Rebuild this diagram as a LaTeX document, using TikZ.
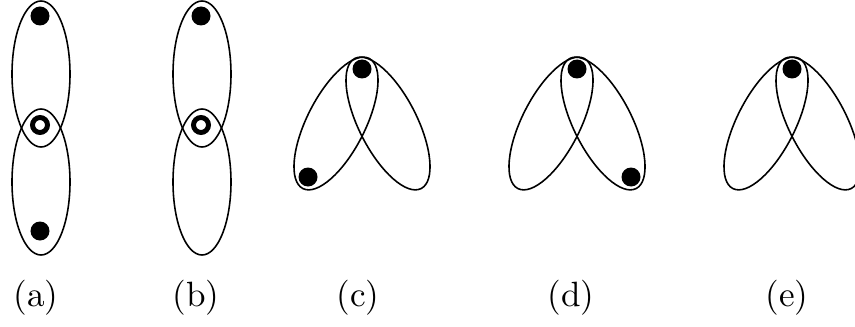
\documentclass[tikz,border=0pt]{standalone}
\usepackage{amsmath, amssymb}
\usetikzlibrary{positioning}

\begin{document}
\begin{tikzpicture}[
    loop/.style={draw, line width=0.45pt},
    full/.style={circle, fill=black, inner sep=0pt, minimum size=0.19cm},
    hole/.style={circle, draw, line width=1.4pt, inner sep=0pt, minimum size=0.15cm}
]
    \useasboundingbox (0,0) rectangle (8.55,3.26);

    % (a)
    \begin{scope}[shift={(0.40,0)}]
        \draw[loop] (0.01,2.52) ellipse [x radius=0.29, y radius=0.73];
        \draw[loop] (0.01,1.44) ellipse [x radius=0.29, y radius=0.73];
        \node[full] (a1) at (0,3.10) {};
        \node[hole] (a2) at (0,2.01) {};
        \node[full] (a3) at (0,0.95) {};
        \node (la) at (-0.04,0.28) {(a)};
    \end{scope}

    % (b)
    \begin{scope}[shift={(2.01,0)}]
        \draw[loop] (0.01,2.52) ellipse [x radius=0.29, y radius=0.73];
        \draw[loop] (0.01,1.44) ellipse [x radius=0.29, y radius=0.73];
        \node[full] (b1) at (0,3.10) {};
        \node[hole] (b2) at (0,2.01) {};
        \node (lb) at (-0.05,0.28) {(b)};
    \end{scope}

    % (c)
    \begin{scope}[shift={(3.62,0)}]
        \draw[loop, shift={(-0.26,2.025)}, rotate=-27] (0,0) ellipse [x radius=0.29, y radius=0.73];
        \draw[loop, shift={(0.26,2.025)}, rotate=27] (0,0) ellipse [x radius=0.29, y radius=0.73];
        \node[full] (c1) at (0,2.57) {};
        \node[full] (c2) at (-0.54,1.49) {};
        \node (lc) at (-0.04,0.28) {(c)};
    \end{scope}

    % (d)
    \begin{scope}[shift={(5.77,0)}]
        \draw[loop, shift={(-0.26,2.025)}, rotate=-27] (0,0) ellipse [x radius=0.29, y radius=0.73];
        \draw[loop, shift={(0.26,2.025)}, rotate=27] (0,0) ellipse [x radius=0.29, y radius=0.73];
        \node[full] (d1) at (0,2.57) {};
        \node[full] (d2) at (0.54,1.49) {};
        \node (ld) at (-0.06,0.28) {(d)};
    \end{scope}

    % (e)
    \begin{scope}[shift={(7.92,0)}]
        \draw[loop, shift={(-0.26,2.025)}, rotate=-27] (0,0) ellipse [x radius=0.29, y radius=0.73];
        \draw[loop, shift={(0.26,2.025)}, rotate=27] (0,0) ellipse [x radius=0.29, y radius=0.73];
        \node[full] (e1) at (0,2.57) {};
        \node (le) at (-0.05,0.28) {(e)};
    \end{scope}
\end{tikzpicture}
\end{document}
